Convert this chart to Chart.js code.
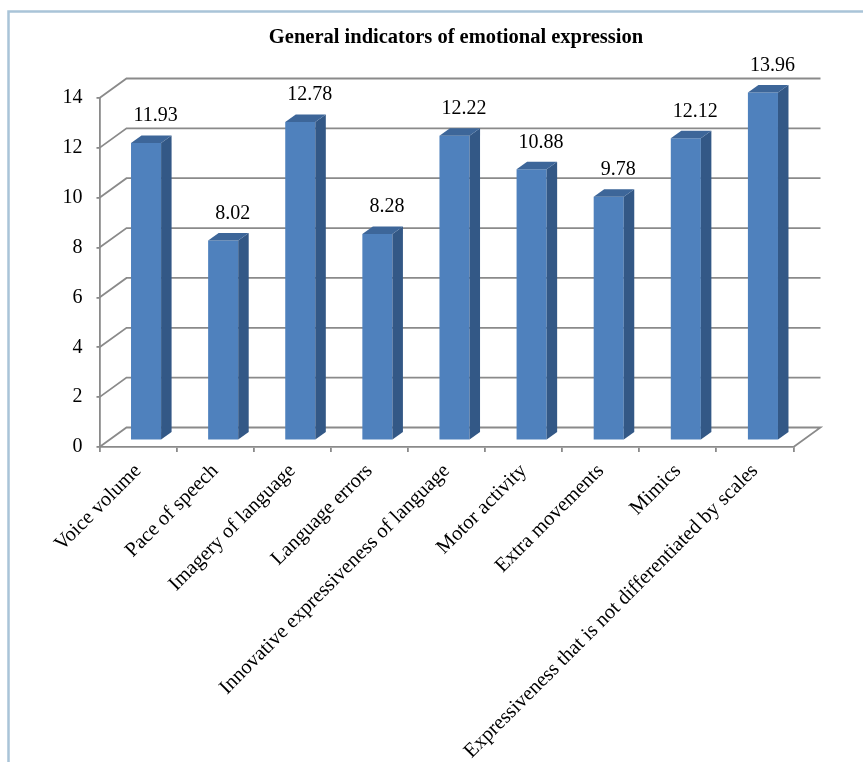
<!DOCTYPE html>
<html><head><meta charset="utf-8">
<script src="https://cdn.jsdelivr.net/npm/chart.js@4.4.1/dist/chart.umd.min.js"></script>
<style>html,body{margin:0;padding:0;background:#fff;}#wrap{position:relative;width:863px;height:762px;}</style>
</head><body><div id="wrap"><canvas id="c" width="863" height="762"></canvas></div>
<script>
const titleText = 'General indicators of emotional expression';
const categories = ['Voice volume','Pace of speech','Imagery of language','Language errors','Innovative expressiveness of language','Motor activity','Extra movements','Mimics','Expressiveness that is not differentiated by scales'];
const values = [11.93, 8.02, 12.78, 8.28, 12.22, 10.88, 9.78, 12.12, 13.96];
const yTicks = [0, 2, 4, 6, 8, 10, 12, 14];

const FONT = "'Liberation Serif', 'Times New Roman', serif";
const GRID = '#8a8a8a';
const WALL = {dx: 27, dy: -19.5};     // back-wall depth offset
const BARSHIFT = {dx: 8, dy: -6.5};   // bars sit a little behind the front plane
const SIDE = {dx: 10.5, dy: -7.5};    // bar depth

const threeD = {
  id: 'threeD',
  beforeDraw(chart) {
    const {ctx, chartArea: a, scales: {y}} = chart;
    ctx.save();
    // outer frame
    ctx.strokeStyle = '#a9c4d8';
    ctx.lineWidth = 2.5;
    ctx.beginPath();
    ctx.moveTo(8.5, 762); ctx.lineTo(8.5, 11.5); ctx.lineTo(863, 11.5);
    ctx.stroke();
    // title
    ctx.fillStyle = '#000';
    ctx.font = 'bold 20.5px ' + FONT;
    ctx.textAlign = 'center';
    ctx.textBaseline = 'middle';
    ctx.fillText(titleText, 456, 38);
    // back wall, side wall and floor lines
    ctx.strokeStyle = GRID;
    ctx.lineWidth = 1.8;
    yTicks.forEach(v => {
      const yy = y.getPixelForValue(v);
      ctx.beginPath();
      ctx.moveTo(a.left, yy);
      ctx.lineTo(a.left + WALL.dx, yy + WALL.dy);
      ctx.lineTo(a.right + WALL.dx, yy + WALL.dy);
      if (v === 0) ctx.lineTo(a.right, yy);
      ctx.stroke();
    });
    ctx.restore();
  },
  beforeDatasetsDraw(chart) {
    chart.ctx.save();
    chart.ctx.translate(BARSHIFT.dx, BARSHIFT.dy);
  },
  afterDatasetsDraw(chart) {
    const ctx = chart.ctx;
    const meta = chart.getDatasetMeta(0);
    meta.data.forEach(bar => {
      const p = bar.getProps(['x', 'y', 'base', 'width'], true);
      const l = p.x - p.width / 2, r = p.x + p.width / 2;
      ctx.fillStyle = '#335886';
      ctx.beginPath();
      ctx.moveTo(r, p.y); ctx.lineTo(r + SIDE.dx, p.y + SIDE.dy);
      ctx.lineTo(r + SIDE.dx, p.base + SIDE.dy); ctx.lineTo(r, p.base);
      ctx.closePath(); ctx.fill();
      ctx.fillStyle = '#3d6699';
      ctx.beginPath();
      ctx.moveTo(l, p.y); ctx.lineTo(l + SIDE.dx, p.y + SIDE.dy);
      ctx.lineTo(r + SIDE.dx, p.y + SIDE.dy); ctx.lineTo(r, p.y);
      ctx.closePath(); ctx.fill();
    });
    ctx.restore();
    // value labels
    ctx.save();
    ctx.fillStyle = '#000';
    ctx.font = '20px ' + FONT;
    ctx.textAlign = 'center';
    ctx.textBaseline = 'middle';
    meta.data.forEach((bar, i) => {
      const p = bar.getProps(['x', 'y'], true);
      ctx.fillText(values[i].toFixed(2), p.x + BARSHIFT.dx + 9.5, p.y + BARSHIFT.dy - 27);
    });
    ctx.restore();
  }
};

new Chart(document.getElementById('c'), {
  type: 'bar',
  data: {
    labels: categories,
    datasets: [{
      data: values,
      backgroundColor: '#4F81BD',
      borderWidth: 0,
      barPercentage: 0.39,
      categoryPercentage: 1,
      clip: false
    }]
  },
  options: {
    responsive: false,
    animation: false,
    devicePixelRatio: 1,
    layout: {padding: {left: 0, right: 69.5, top: 98, bottom: 0}},
    plugins: {
      legend: {display: false},
      tooltip: {enabled: false},
      title: {display: false}
    },
    scales: {
      x: {
        offset: true,
        grid: {drawOnChartArea: false, tickLength: 5, color: GRID, lineWidth: 1.8, offset: true},
        border: {display: true, color: GRID, width: 1.8},
        ticks: {color: '#000', font: {family: FONT, size: 20.5}, maxRotation: 45, minRotation: 45, autoSkip: false, padding: 7},
        afterFit(scale) { scale.height = 315; }
      },
      y: {
        min: 0, max: 14,
        afterBuildTicks(scale) { scale.ticks = yTicks.map(v => ({value: v})); },
        grid: {drawOnChartArea: false, tickLength: 3, color: GRID, lineWidth: 1.8},
        border: {display: true, color: GRID, width: 1.8},
        ticks: {color: '#000', font: {family: FONT, size: 20}, padding: 14},
        afterFit(scale) { scale.width = 99.5; }
      }
    }
  },
  plugins: [threeD]
});
</script></body></html>
